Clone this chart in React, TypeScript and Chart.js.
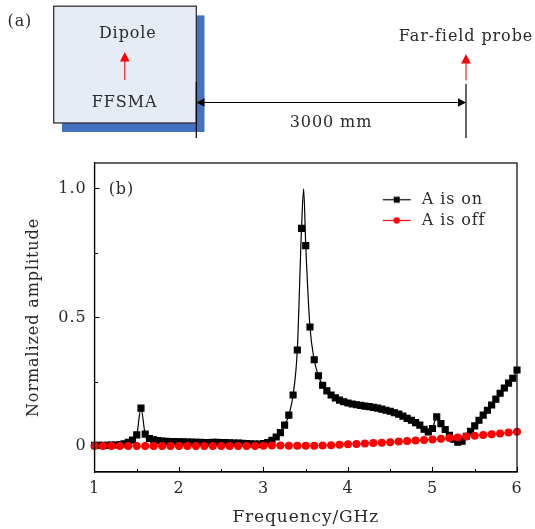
import React, { useEffect, useRef } from "react";
import { Chart, registerables } from "chart.js";

Chart.register(...registerables);

const onFreq = [
  1.0, 1.05, 1.1, 1.15, 1.2, 1.25, 1.3, 1.35, 1.4, 1.45, 1.5, 1.55, 1.6, 1.65, 1.7, 1.75, 1.8, 1.85, 1.9, 1.95,
  2.0, 2.05, 2.1, 2.15, 2.2, 2.25, 2.3, 2.35, 2.4, 2.45, 2.5, 2.55, 2.6, 2.65, 2.7, 2.75, 2.8, 2.85, 2.9, 2.95,
  3.0, 3.05, 3.1, 3.15, 3.2, 3.25, 3.3, 3.35, 3.4, 3.45, 3.5, 3.55, 3.6, 3.65, 3.7, 3.75, 3.8, 3.85, 3.9, 3.95,
  4.0, 4.05, 4.1, 4.15, 4.2, 4.25, 4.3, 4.35, 4.4, 4.45, 4.5, 4.55, 4.6, 4.65, 4.7, 4.75, 4.8, 4.85, 4.9, 4.95,
  5.0, 5.05, 5.1, 5.15, 5.2, 5.25, 5.3, 5.35, 5.4, 5.45, 5.5, 5.55, 5.6, 5.65, 5.7, 5.75, 5.8, 5.85, 5.9, 5.95, 6.0,
];
const onValue = [
  0.004, 0.004, 0.004, 0.004, 0.005, 0.005, 0.006, 0.009, 0.015, 0.024, 0.044, 0.148, 0.047, 0.03, 0.025, 0.022, 0.02, 0.019, 0.018, 0.018,
  0.017, 0.017, 0.016, 0.016, 0.015, 0.015, 0.014, 0.014, 0.015, 0.015, 0.014, 0.014, 0.013, 0.012, 0.012, 0.011, 0.01, 0.009, 0.008, 0.008,
  0.01, 0.014, 0.023, 0.036, 0.053, 0.082, 0.121, 0.199, 0.374, 0.846, 0.779, 0.463, 0.336, 0.274, 0.237, 0.215, 0.199, 0.188, 0.179, 0.173,
  0.168, 0.164, 0.161, 0.159, 0.156, 0.154, 0.151, 0.148, 0.144, 0.14, 0.136, 0.13, 0.125, 0.117, 0.108, 0.101, 0.092, 0.082, 0.066, 0.056,
  0.069, 0.114, 0.088, 0.065, 0.042, 0.027, 0.016, 0.02, 0.039, 0.058, 0.079, 0.101, 0.121, 0.14, 0.16, 0.183, 0.206, 0.226, 0.245, 0.264, 0.296,
];
// unmarked sample that carries the line up to the resonance top between two markers
const onPeakFreq = [3.475];
const onPeakValue = [1.0];

const offFreq = [
  1.0, 1.1, 1.2, 1.3, 1.4, 1.5, 1.6, 1.7, 1.8, 1.9, 2.0, 2.1, 2.2, 2.3, 2.4, 2.5, 2.6, 2.7, 2.8, 2.9,
  3.0, 3.1, 3.2, 3.3, 3.4, 3.5, 3.6, 3.7, 3.8, 3.9, 4.0, 4.1, 4.2, 4.3, 4.4, 4.5, 4.6, 4.7, 4.8, 4.9,
  5.0, 5.1, 5.2, 5.3, 5.4, 5.5, 5.6, 5.7, 5.8, 5.9, 6.0,
];
const offValue = [
  0.001, 0.001, 0.001, 0.001, 0.001, 0.001, 0.001, 0.001, 0.001, 0.001, 0.001, 0.001, 0.001, 0.001, 0.001, 0.001, 0.001, 0.001, 0.001, 0.001,
  0.002, 0.003, 0.003, 0.002, 0.002, 0.002, 0.002, 0.003, 0.004, 0.006, 0.008, 0.009, 0.011, 0.013, 0.014, 0.016, 0.018, 0.02, 0.022, 0.024,
  0.026, 0.029, 0.032, 0.034, 0.038, 0.041, 0.044, 0.047, 0.05, 0.053, 0.056,
];

const xTicks = [1, 2, 3, 4, 5, 6];
const xMinorTicks = [1.5, 2.5, 3.5, 4.5, 5.5];
const yTicks = [0, 0.5, 1];
const yMinorTicks = [0.25, 0.75];
const yLabels: Record<string, string> = { "0": "0", "0.5": "0.5", "1": "1.0" };

const SERIF = '"DejaVu Serif", serif';
const TEXT = "#2a2a2a";

function legendSwatch(color: string, shape: "square" | "circle") {
  const c = document.createElement("canvas");
  c.width = 30;
  c.height = 9;
  const g = c.getContext("2d")!;
  g.strokeStyle = color;
  g.lineWidth = 1.2;
  g.beginPath();
  g.moveTo(1, 4.5);
  g.lineTo(29, 4.5);
  g.stroke();
  g.fillStyle = color;
  if (shape === "square") g.fillRect(12, 1.5, 6, 6);
  else {
    g.beginPath();
    g.arc(15, 4.5, 3.2, 0, Math.PI * 2);
    g.fill();
  }
  return c;
}

const framePlugin = {
  id: "frame",
  afterLayout(chart: any) {
    if (chart.legend) {
      chart.legend.left = 375;
      chart.legend.top = 187;
    }
  },
  beforeDraw(chart: any) {
    chart.ctx.letterSpacing = "0.9px";
  },
  afterDatasetsDraw(chart: any) {
    const { ctx, chartArea: a, scales } = chart;
    ctx.save();
    ctx.strokeStyle = "#000";
    ctx.lineWidth = 1.2;
    ctx.strokeRect(a.left, a.top, a.right - a.left, a.bottom - a.top);
    ctx.lineWidth = 1;
    ctx.beginPath();
    for (const v of xMinorTicks) {
      const p = Math.round(scales.x.getPixelForValue(v)) + 0.5;
      ctx.moveTo(p, a.bottom);
      ctx.lineTo(p, a.bottom - 3);
    }
    for (const v of yMinorTicks) {
      const p = Math.round(scales.y.getPixelForValue(v)) + 0.5;
      ctx.moveTo(a.left, p);
      ctx.lineTo(a.left + 3.5, p);
    }
    ctx.stroke();
    ctx.restore();
  },
};

function Schematic() {
  const t = { fontFamily: SERIF, fontSize: 16, fill: TEXT, letterSpacing: 0.9 } as const;
  const redArrow = (x: number, y1: number, y2: number) => (
    <g>
      <line x1={x} y1={y1} x2={x} y2={y2 + 8} stroke="#ff1a1a" strokeWidth={1.2} />
      <polygon points={`${x},${y2} ${x - 4.8},${y2 + 9.5} ${x + 4.8},${y2 + 9.5}`} fill="#ff0000" />
    </g>
  );
  return (
    <svg width={535} height={529} style={{ position: "fixed", left: 0, top: 0, pointerEvents: "none" }}>
      <rect x={62} y={15.4} width={142.5} height={116.6} fill="#4472c0" />
      <rect x={53.7} y={6.2} width={142.6} height={116.8} fill="#e6ecf6" stroke="#222" strokeWidth={1.2} />
      <line x1={196.3} y1={82} x2={196.3} y2={138} stroke="#000" strokeWidth={1.2} />
      <line x1={466} y1={84} x2={466} y2={138} stroke="#000" strokeWidth={1.2} />
      <line x1={200} y1={102.5} x2={462} y2={102.5} stroke="#000" strokeWidth={1.2} />
      <polygon points="196.5,102.5 204.5,98.3 204.5,106.7" fill="#000" />
      <polygon points="466,102.5 458,98.3 458,106.7" fill="#000" />
      {redArrow(124.8, 80, 52)}
      {redArrow(466, 80.4, 54)}
      <text x={7.5} y={25.5} {...t}>(a)</text>
      <text x={127.8} y={38} textAnchor="middle" {...t}>Dipole</text>
      <text x={124.6} y={106.7} textAnchor="middle" {...t}>FFSMA</text>
      <text x={331} y={127} textAnchor="middle" {...t}>3000 mm</text>
      <text x={466} y={41} textAnchor="middle" {...t}>Far-field probe</text>
      <text x={108.7} y={194} {...t}>(b)</text>
    </svg>
  );
}

export default function App() {
  const ref = useRef<HTMLCanvasElement>(null);
  useEffect(() => {
    const onPoints = onFreq.map((x, i) => ({ x, y: onValue[i], marked: true }));
    onPeakFreq.forEach((x, i) => onPoints.push({ x, y: onPeakValue[i], marked: false }));
    onPoints.sort((p, q) => p.x - q.x);
    const offPoints = offFreq.map((x, i) => ({ x, y: offValue[i] }));

    const swatches = [legendSwatch("#000000", "square"), legendSwatch("#ff0000", "circle")];

    const chart = new Chart(ref.current!, {
      type: "line",
      data: {
        datasets: [
          {
            label: "A is on",
            data: onPoints as any,
            order: 2,
            clip: false,
            borderColor: "#000",
            backgroundColor: "#000",
            borderWidth: 1.2,
            pointStyle: "rect",
            pointRadius: (c: any) => (c.raw && c.raw.marked ? 4.2 : 0),
            cubicInterpolationMode: "monotone",
          },
          {
            label: "A is off",
            data: offPoints as any,
            order: 1,
            clip: false,
            borderColor: "#ff0000",
            backgroundColor: "#ff0000",
            borderWidth: 1.2,
            pointStyle: "circle",
            pointRadius: 3.4,
          },
        ],
      },
      options: {
        responsive: false,
        animation: false,
        events: [],
        parsing: { xAxisKey: "x", yAxisKey: "y" },
        layout: { padding: { left: 0, right: 18, top: 163, bottom: 0 } },
        scales: {
          x: {
            type: "linear",
            min: 1,
            max: 6,
            afterBuildTicks: (s: any) => {
              s.ticks = xTicks.map((value) => ({ value }));
            },
            afterFit: (s: any) => {
              s.height = 57;
            },
            grid: { drawOnChartArea: false, color: "#000", tickLength: -5, tickWidth: 1, tickColor: "#000" },
            border: { color: "#000", width: 1.2 },
            ticks: {
              padding: 12,
              color: TEXT,
              maxRotation: 0,
              autoSkip: false,
              font: { family: SERIF, size: 16 },
              callback: (v: any) => String(v),
            },
            title: { display: true, text: "Frequency/GHz", color: TEXT, padding: { top: 2, bottom: 1 }, font: { family: SERIF, size: 17 } },
          },
          y: {
            type: "linear",
            min: -0.1,
            max: 1.1,
            afterBuildTicks: (s: any) => {
              s.ticks = yTicks.map((value) => ({ value }));
            },
            afterFit: (s: any) => {
              s.width = 94.5;
            },
            grid: { drawOnChartArea: false, color: "#000", tickLength: -5, tickWidth: 1, tickColor: "#000" },
            border: { color: "#000", width: 1.2 },
            ticks: {
              padding: 13,
              color: TEXT,
              autoSkip: false,
              font: { family: SERIF, size: 16 },
              callback: (v: any) => yLabels[String(v)],
            },
            title: { display: true, text: "Normalized amplitude", color: TEXT, padding: { top: 24, bottom: 0 }, font: { family: SERIF, size: 16 } },
          },
        },
        plugins: {
          tooltip: { enabled: false },
          legend: {
            display: true,
            position: "chartArea",
            align: "start",
            labels: {
              usePointStyle: true,
              pointStyleWidth: 34,
              boxHeight: 12,
              padding: 4.7,
              color: TEXT,
              font: { family: SERIF, size: 16 },
              generateLabels: (c: any) =>
                c.data.datasets.map((d: any, i: number) => ({
                  text: d.label,
                  datasetIndex: i,
                  pointStyle: swatches[i],
                  fontColor: TEXT,
                  lineWidth: 0,
                  strokeStyle: "transparent",
                  fillStyle: "transparent",
                })),
            },
          },
        },
      } as any,
      plugins: [framePlugin],
    });
    return () => chart.destroy();
  }, []);
  return (
    <>
      <canvas ref={ref} width={535} height={529} style={{ position: "fixed", left: 0, top: 0, width: 535, height: 529 }} />
      <Schematic />
    </>
  );
}
